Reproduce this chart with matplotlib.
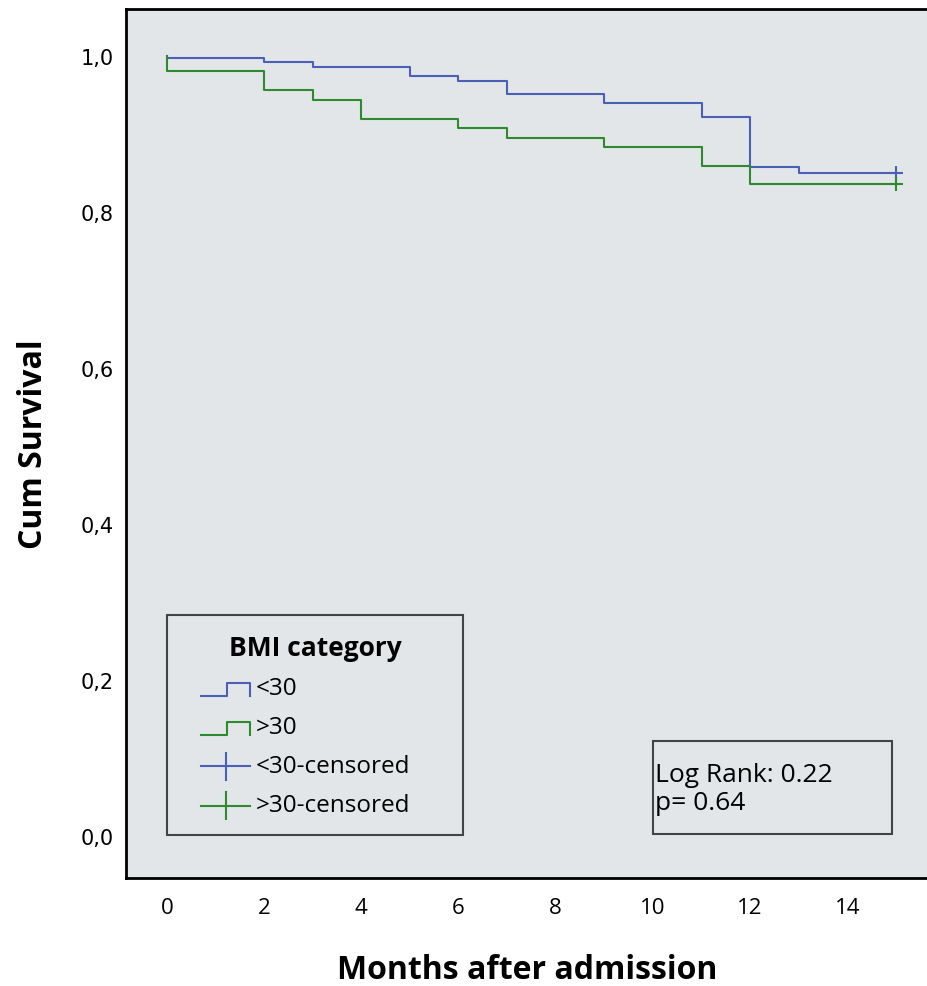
import matplotlib.pyplot as plt
from matplotlib.legend_handler import HandlerBase
from matplotlib.lines import Line2D
from matplotlib.patches import Rectangle

# ---- data ----------------------------------------------------------------------
months_lt30 = [0, 0, 2, 3, 5, 6, 7, 9, 11, 12, 13, 15]
surv_lt30 = [1.0, 0.997, 0.992, 0.986, 0.974, 0.968, 0.951, 0.939, 0.922, 0.857, 0.850, 0.850]
months_gt30 = [0, 0, 2, 3, 4, 6, 7, 9, 11, 12, 15]
surv_gt30 = [1.0, 0.980, 0.956, 0.943, 0.919, 0.907, 0.895, 0.883, 0.859, 0.835, 0.835]

censor_months_lt30 = [15]
censor_surv_lt30 = [0.850]
censor_months_gt30 = [15]
censor_surv_gt30 = [0.835]

group_labels = ["<30", ">30", "<30-censored", ">30-censored"]
x_ticks = [0, 2, 4, 6, 8, 10, 12, 14]
y_ticks = [0.0, 0.2, 0.4, 0.6, 0.8, 1.0]
y_tick_labels = ["0,0", "0,2", "0,4", "0,6", "0,8", "1,0"]
log_rank = 0.22
p_value = 0.64

BLUE = "#4b5fb6"
GREEN = "#2f8a2f"
BG = "#e2e6e9"
FONT = ["Open Sans", "DejaVu Sans"]
ICON_START = 0.25  # icon sits in the right part of the handle box


class StepHandler(HandlerBase):
    """Draws the little SPSS-style step icon in the legend."""

    def create_artists(self, legend, orig_handle, xdescent, ydescent,
                       width, height, fontsize, trans):
        x0 = -xdescent + ICON_START * width
        x1 = -xdescent + width
        xm = x0 + 0.53 * (x1 - x0)
        lo = -ydescent - 0.05 * height
        hi = -ydescent + 0.6 * height
        line = Line2D([x0, xm, xm, x1, x1], [lo, lo, hi, hi, lo],
                      color=orig_handle.get_color(), lw=1.5, transform=trans)
        return [line]


class CensorHandler(HandlerBase):
    def create_artists(self, legend, orig_handle, xdescent, ydescent,
                       width, height, fontsize, trans):
        x0 = -xdescent + ICON_START * width
        x1 = -xdescent + width
        xm = (x0 + x1) / 2
        yc = -ydescent + 0.35 * height
        h = 0.65 * height
        c = orig_handle.get_color()
        return [Line2D([x0, x1], [yc, yc], color=c, lw=1.5, transform=trans),
                Line2D([xm, xm], [yc - h, yc + h], color=c, lw=1.5, transform=trans)]


fig = plt.figure(figsize=(9.28, 9.87), dpi=100)
ax = fig.add_axes([0.1358, 0.1094, 0.8642, 0.8805])
ax.set_facecolor(BG)

ax.step(months_lt30, surv_lt30, where="post", color=BLUE, lw=1.5)
ax.step(months_gt30, surv_gt30, where="post", color=GREEN, lw=1.5)
ax.plot(censor_months_lt30, censor_surv_lt30, ls="none", marker="+",
        ms=10, mew=1.5, color=BLUE)
ax.plot(censor_months_gt30, censor_surv_gt30, ls="none", marker="+",
        ms=10, mew=1.5, color=GREEN)

ax.set_xlim(-0.84, 15.66)
ax.set_ylim(-0.054, 1.06)
ax.set_xticks(x_ticks)
ax.set_xticklabels([str(t) for t in x_ticks], fontfamily=FONT, fontsize=16)
ax.set_yticks(y_ticks)
ax.set_yticklabels(y_tick_labels, fontfamily="DejaVu Sans", fontsize=15)
ax.tick_params(axis="x", length=0, pad=14)
ax.tick_params(axis="y", length=0, pad=9)

for side in ["left", "bottom", "top"]:
    ax.spines[side].set_linewidth(2)
    ax.spines[side].set_color("black")
ax.spines["right"].set_visible(False)

ax.set_xlabel("Months after admission", fontfamily=FONT, fontweight="bold",
              fontsize=23, labelpad=25)
ax.set_ylabel("Cum Survival", fontfamily=FONT, fontweight="bold",
              fontsize=23, labelpad=22)

# ---- legend ---------------------------------------------------------------------
h_lt = Line2D([], [], color=BLUE)
h_gt = Line2D([], [], color=GREEN)
h_lt_c = Line2D([], [], color=BLUE)
h_gt_c = Line2D([], [], color=GREEN)
leg = ax.legend(
    [h_lt, h_gt, h_lt_c, h_gt_c], group_labels,
    handler_map={h_lt: StepHandler(), h_gt: StepHandler(),
                 h_lt_c: CensorHandler(), h_gt_c: CensorHandler()},
    title="BMI category", loc="lower left",
    bbox_to_anchor=(0.0511, 0.0494, 0.369, 0.25), mode="expand",
    prop={"family": FONT, "size": 17.5},
    title_fontproperties={"family": FONT, "size": 19, "weight": "bold"},
    handlelength=2.67, handleheight=0.9, handletextpad=0.25,
    labelspacing=0.6, borderpad=0.75, borderaxespad=0,
    fancybox=False, framealpha=1, facecolor=BG, edgecolor="#444444",
)
leg.get_frame().set_linewidth(1.5)

# ---- log-rank box ---------------------------------------------------------------
ax.add_patch(Rectangle((0.657, 0.0506), 0.298, 0.107, transform=ax.transAxes,
                       fill=False, edgecolor="#444444", lw=1.5))
ax.text(0.6596, 0.1034, f"Log Rank: {log_rank:.2f}\np= {p_value:.2f}",
        transform=ax.transAxes, ha="left", va="center",
        fontfamily=FONT, fontsize=19, linespacing=1.17)

fig.savefig("out.png", dpi=100)
